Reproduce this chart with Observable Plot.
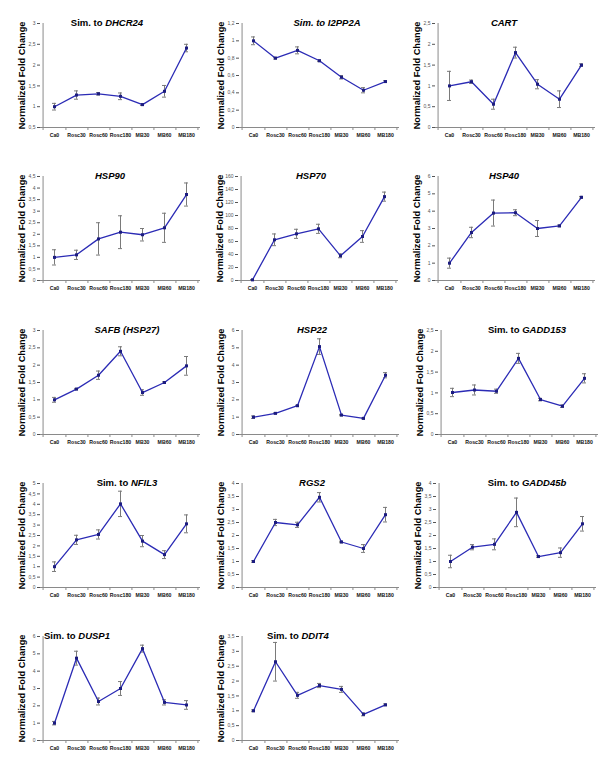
<!DOCTYPE html>
<html><head><meta charset="utf-8">
<script src="https://cdn.jsdelivr.net/npm/d3@7"></script>
<script src="https://cdn.jsdelivr.net/npm/@observablehq/plot@0.6"></script>
<style>
body{margin:0;background:#fff;}
#fig{position:relative;width:600px;height:758px;background:#fff;overflow:hidden;font-family:"Liberation Sans",Arial,sans-serif;}
#fig svg{position:absolute;overflow:visible;}
</style></head><body><div id="fig"></div>
<script>
// ---- data ----
const categories = ["Ca0","Rosc30","Rosc60","Rosc180","MB30","MB60","MB180"];
const yLabel = "Normalized Fold Change";

const DHCR24_mean  = [1.00, 1.28, 1.31, 1.25, 1.05, 1.37, 2.41];
const DHCR24_err   = [0.08, 0.10, 0.03, 0.08, 0.02, 0.14, 0.09];
const I2PP2A_mean  = [1.00, 0.80, 0.89, 0.77, 0.58, 0.43, 0.53];
const I2PP2A_err   = [0.045, 0.01, 0.04, 0.01, 0.02, 0.03, 0.01];
const CART_mean    = [1.00, 1.10, 0.56, 1.80, 1.04, 0.68, 1.50];
const CART_err     = [0.35, 0.04, 0.12, 0.13, 0.11, 0.20, 0.03];
const HSP90_mean   = [1.00, 1.11, 1.80, 2.09, 1.98, 2.28, 3.72];
const HSP90_err    = [0.33, 0.20, 0.70, 0.71, 0.27, 0.63, 0.50];
const HSP70_mean   = [1.0, 62.6, 71.8, 79.5, 38.0, 67.7, 129.0];
const HSP70_err    = [0.5, 9, 7, 7, 3, 9, 7];
const HSP40_mean   = [1.00, 2.77, 3.89, 3.91, 3.00, 3.15, 4.80];
const HSP40_err    = [0.29, 0.30, 0.75, 0.17, 0.46, 0.05, 0.05];
const SAFB_mean    = [1.00, 1.31, 1.71, 2.40, 1.21, 1.50, 1.98];
const SAFB_err     = [0.07, 0.02, 0.12, 0.13, 0.08, 0.02, 0.27];
const HSP22_mean   = [1.00, 1.22, 1.66, 5.07, 1.12, 0.93, 3.42];
const HSP22_err    = [0.07, 0.03, 0.03, 0.45, 0.04, 0.03, 0.15];
const GADD153_mean = [1.01, 1.07, 1.04, 1.83, 0.84, 0.68, 1.35];
const GADD153_err  = [0.10, 0.12, 0.05, 0.12, 0.03, 0.03, 0.11];
const NFIL3_mean   = [1.00, 2.29, 2.55, 4.02, 2.23, 1.58, 3.06];
const NFIL3_err    = [0.23, 0.22, 0.22, 0.61, 0.27, 0.19, 0.43];
const RGS2_mean    = [1.00, 2.50, 2.41, 3.47, 1.75, 1.50, 2.80];
const RGS2_err     = [0.03, 0.12, 0.10, 0.18, 0.03, 0.15, 0.28];
const GADD45b_mean = [1.00, 1.55, 1.66, 2.89, 1.19, 1.34, 2.45];
const GADD45b_err  = [0.24, 0.10, 0.21, 0.55, 0.03, 0.18, 0.28];
const DUSP1_mean   = [1.00, 4.75, 2.25, 3.00, 5.30, 2.20, 2.05];
const DUSP1_err    = [0.10, 0.40, 0.20, 0.40, 0.20, 0.15, 0.25];
const DDIT4_mean   = [1.00, 2.65, 1.52, 1.85, 1.72, 0.88, 1.20];
const DDIT4_err    = [0.03, 0.65, 0.10, 0.07, 0.10, 0.05, 0.03];

const genes        = ["DHCR24","I2PP2A","CART","HSP90","HSP70","HSP40","SAFB (HSP27)","HSP22","GADD153","NFIL3","RGS2","GADD45b","DUSP1","DDIT4"];
const titlePrefix  = ["Sim. to ","Sim. to ","","","","","","","Sim. to ","Sim. to ","","Sim. to ","Sim. to ","Sim. to "];
const prefixItalic = [false,true,false,false,false,false,false,false,false,false,false,false,false,false];
const means  = [DHCR24_mean,I2PP2A_mean,CART_mean,HSP90_mean,HSP70_mean,HSP40_mean,SAFB_mean,HSP22_mean,GADD153_mean,NFIL3_mean,RGS2_mean,GADD45b_mean,DUSP1_mean,DDIT4_mean];
const errs   = [DHCR24_err,I2PP2A_err,CART_err,HSP90_err,HSP70_err,HSP40_err,SAFB_err,HSP22_err,GADD153_err,NFIL3_err,RGS2_err,GADD45b_err,DUSP1_err,DDIT4_err];
const yMins  = [0.5,0,0,0,0,0,0,0,0,0,0,0,0,0];
const yMaxs  = [3,1.2,2.5,4.5,160,6,3,6,2.5,5,4,4,6,3.5];
const ySteps = [0.5,0.2,0.5,0.5,20,1,0.5,1,0.5,0.5,0.5,0.5,1,0.5];

// ---- layout ----
const panelLeft = [0,199,395, 0,198,395, 0,199,398, 0,199,396, 0,199];
const panelTop  = [0,0,0, 153,153,153, 307,307,307, 460,460,460, 613,613];
const titleX    = [107,128,109, 110,113,109, 127,113,129, 127,113,131, 77,99];
const W = 200, H = 147, ML = 40, MR = 0, MT = 23, MB = 20;
const plotH = H - MT - MB;
const step = (W - ML - MR) / categories.length;
const axisColor = "#8a8a8a";
const lineColor = "#2b2bb5";
const dotColor = "#1c1c80";
const errColor = "#7a7a7a";
const font = "'Liberation Sans', Arial, sans-serif";

const fig = document.getElementById("fig");
const fmt = d => String(+d.toFixed(2)).replace(".", ",");

genes.forEach((g, k) => {
  const yMin = yMins[k], yMax = yMaxs[k], ys = ySteps[k];
  const unit = (yMax - yMin) / plotH;
  const ticks = d3.range(0, Math.round((yMax - yMin) / ys) + 1).map(i => yMin + i * ys);
  const data = categories.map((c, i) => ({cat: c, v: means[k][i], e: errs[k][i]}));
  const chart = Plot.plot({
    width: W, height: H,
    marginLeft: ML, marginRight: MR, marginTop: MT, marginBottom: MB,
    style: {fontFamily: font, background: "transparent", overflow: "visible"},
    x: {type: "point", domain: categories, padding: 0.5, axis: null},
    y: {domain: [yMin, yMax], axis: null},
    marks: [
      Plot.ruleY([yMin], {stroke: axisColor, strokeWidth: 1}),
      Plot.ruleX([categories[0]], {dx: -step / 2, stroke: axisColor, strokeWidth: 1}),
      Plot.ruleX(categories, {x: d => d, y1: yMin, y2: yMin - 3 * unit, dx: step / 2, stroke: axisColor}),
      Plot.ruleX([categories[0]], {y1: yMin, y2: yMin - 3 * unit, dx: -step / 2, stroke: axisColor}),
      Plot.axisY(ticks, {anchor: "left", tickSize: 3, tickPadding: 2, fontSize: 5, tickFormat: fmt, color: "#555", label: null}),
      Plot.axisX({tickSize: 0, tickPadding: 6, fontSize: 5.2, fontWeight: "bold", color: "#111", label: null}),
      Plot.ruleX(data, {x: "cat", y1: d => d.v - d.e, y2: d => d.v + d.e, stroke: errColor, strokeWidth: 1}),
      Plot.ruleY(data, {y: d => d.v + d.e, x1: "cat", x2: "cat", insetLeft: -2, insetRight: -2, stroke: errColor}),
      Plot.ruleY(data, {y: d => d.v - d.e, x1: "cat", x2: "cat", insetLeft: -2, insetRight: -2, stroke: errColor}),
      Plot.line(data, {x: "cat", y: "v", stroke: lineColor, strokeWidth: 1.3}),
      Plot.dot(data, {x: "cat", y: "v", symbol: "square", r: 1.7, fill: dotColor, stroke: "none"}),
      Plot.text([yLabel], {frameAnchor: "left", rotate: -90, dx: -18, textAnchor: "middle", lineAnchor: "middle", fontSize: 9.2, fontWeight: "bold", fill: "#000"})
    ]
  });
  chart.style.left = panelLeft[k] + "px";
  chart.style.top = panelTop[k] + "px";
  const t = d3.select(chart).append("text")
    .attr("x", titleX[k]).attr("y", MT + 2.5)
    .attr("text-anchor", "middle")
    .attr("font-family", font).attr("font-size", 9.5).attr("font-weight", "bold").attr("fill", "#000");
  if (titlePrefix[k]) t.append("tspan").attr("font-style", prefixItalic[k] ? "italic" : "normal").text(titlePrefix[k]);
  t.append("tspan").attr("font-style", "italic").text(g);
  fig.appendChild(chart);
});
</script></body></html>
